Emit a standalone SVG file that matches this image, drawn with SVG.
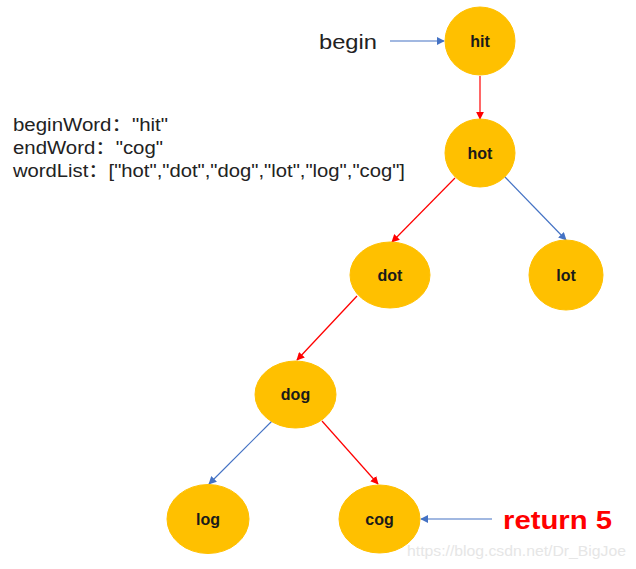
<svg xmlns="http://www.w3.org/2000/svg" width="636" height="569" viewBox="0 0 636 569">
<defs>
<style>
.node{fill:#FFC000;stroke:#FFC000;stroke-width:1}
.lbl{font-family:"Liberation Sans",Arial,sans-serif;font-weight:bold;font-size:16px;fill:#1a1a1a;text-anchor:middle}
.red{stroke:#FF0000;stroke-width:1.2;fill:none;marker-end:url(#ar)}
.blue{stroke:#4472C4;stroke-width:1.2;fill:none;marker-end:url(#ab)}
.txt{font-family:"Liberation Sans","Noto Sans CJK SC",sans-serif;font-size:18px;fill:#222}
</style>
<marker id="ar" viewBox="0 0 10 10" refX="9" refY="5" markerWidth="8" markerHeight="8" markerUnits="userSpaceOnUse" orient="auto"><path d="M0,0L10,5L0,10z" fill="#FF0000"/></marker>
<marker id="ab" viewBox="0 0 10 10" refX="9" refY="5" markerWidth="8" markerHeight="8" markerUnits="userSpaceOnUse" orient="auto"><path d="M0,0L10,5L0,10z" fill="#4472C4"/></marker>
</defs>
<rect width="636" height="569" fill="#fff"/>
<g id="connectors">
<line class="blue" x1="390" y1="41" x2="444" y2="41"/>
<line class="red" x1="480" y1="76" x2="480" y2="119"/>
<line class="red" x1="455" y1="178" x2="392" y2="242"/>
<line class="blue" x1="505" y1="177" x2="566" y2="240"/>
<line class="red" x1="357" y1="296" x2="297" y2="360"/>
<line class="blue" x1="272" y1="421" x2="209" y2="484"/>
<line class="red" x1="322" y1="421" x2="378" y2="484"/>
<line class="blue" x1="492" y1="519" x2="421" y2="519"/>
</g>
<g id="node-hit"><ellipse class="node" cx="480" cy="41" rx="35" ry="34"/><text class="lbl" x="480" y="47">hit</text></g>
<g id="node-hot"><ellipse class="node" cx="480" cy="153" rx="35" ry="34"/><text class="lbl" x="480" y="159">hot</text></g>
<g id="node-dot"><ellipse class="node" cx="390" cy="275" rx="40" ry="33"/><text class="lbl" x="390" y="281">dot</text></g>
<g id="node-lot"><ellipse class="node" cx="566" cy="275" rx="37" ry="35"/><text class="lbl" x="566" y="281">lot</text></g>
<g id="node-dog"><ellipse class="node" cx="295.5" cy="394.5" rx="40.5" ry="33.5"/><text class="lbl" x="295.5" y="400">dog</text></g>
<g id="node-log"><ellipse class="node" cx="208" cy="519" rx="41" ry="34.5"/><text class="lbl" x="208" y="525">log</text></g>
<g id="node-cog"><ellipse class="node" cx="379.5" cy="519" rx="40.5" ry="34"/><text class="lbl" x="379.5" y="525">cog</text></g>
<g id="labels">
<text x="319" y="49" textLength="58" lengthAdjust="spacingAndGlyphs" style="font-family:'Liberation Sans',sans-serif;font-size:21px;fill:#222">begin</text>
<text class="txt" x="13" y="131" textLength="155" lengthAdjust="spacingAndGlyphs">beginWord：&quot;hit&quot;</text>
<text class="txt" x="13" y="154" textLength="150" lengthAdjust="spacingAndGlyphs">endWord：&quot;cog&quot;</text>
<text class="txt" x="13" y="177" textLength="392" lengthAdjust="spacingAndGlyphs">wordList：[&quot;hot&quot;,&quot;dot&quot;,&quot;dog&quot;,&quot;lot&quot;,&quot;log&quot;,&quot;cog&quot;]</text>
<text x="503" y="529" textLength="109" lengthAdjust="spacingAndGlyphs" style="font-family:'Liberation Sans',sans-serif;font-weight:bold;font-size:25px;fill:#FF0000">return 5</text>
<text x="407" y="556" textLength="219" lengthAdjust="spacingAndGlyphs" style="font-family:'Liberation Sans',sans-serif;font-size:15px;fill:#e6e6e6">https://blog.csdn.net/Dr_BigJoe</text>
</g>
</svg>
